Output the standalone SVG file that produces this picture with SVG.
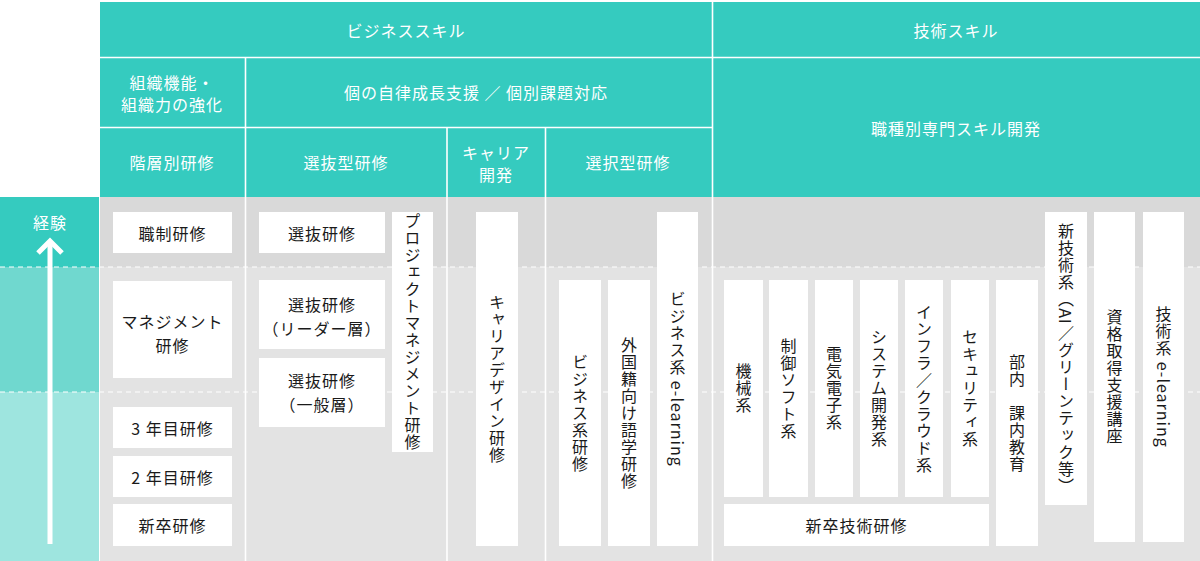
<svg xmlns="http://www.w3.org/2000/svg" width="1200" height="561" viewBox="0 0 1200 561">
<style>
text{font-family:"Noto Sans CJK JP","Noto Sans",sans-serif;font-size:16px;letter-spacing:1px}
.h{fill:#ffffff;text-anchor:middle;dominant-baseline:central}
.t{fill:#1a1a1a;text-anchor:middle;dominant-baseline:central}
.v{fill:#1a1a1a;text-anchor:middle;writing-mode:vertical-rl}
.box{fill:#ffffff}
.wl{stroke:#ffffff;stroke-width:1.6;fill:none}
.dl{stroke:#ffffff;stroke-width:1.2;stroke-dasharray:5 4;fill:none}
</style>
<rect width="1200" height="561" fill="#ffffff"/>
<g id="background">
<rect x="100" y="2" width="1100" height="195" fill="#35cbbf"/>
<rect x="100" y="197" width="1100" height="364" fill="#e3e3e3"/>
<rect x="100" y="197" width="1100" height="70" fill="#d9d9d9"/>
<rect x="0" y="197" width="99" height="70" fill="#35cbbf"/>
<rect x="0" y="267" width="99" height="125" fill="#70d8cf"/>
<rect x="0" y="392" width="99" height="169" fill="#9ee5df"/>
<line class="wl" x1="100" y1="57.5" x2="1200" y2="57.5"/>
<line class="wl" x1="100" y1="127.5" x2="712" y2="127.5"/>
<line class="wl" x1="712.5" y1="2" x2="712.5" y2="561"/>
<line class="wl" x1="245.5" y1="57" x2="245.5" y2="561"/>
<line class="wl" x1="447" y1="127" x2="447" y2="561"/>
<line class="wl" x1="545.5" y1="127" x2="545.5" y2="561"/>
<line class="dl" x1="0" y1="267" x2="1200" y2="267"/>
<line class="dl" x1="0" y1="392" x2="1200" y2="392"/>
</g>
<g id="headers">
<text class="h" x="406" y="30">ビジネススキル</text>
<text class="h" x="956" y="30">技術スキル</text>
<text class="h" x="172" y="82">組織機能・</text>
<text class="h" x="172" y="104">組織力の強化</text>
<text class="h" x="476" y="92">個の自律成長支援 ／ 個別課題対応</text>
<text class="h" x="956" y="128">職種別専門スキル開発</text>
<text class="h" x="172" y="162">階層別研修</text>
<text class="h" x="346" y="162">選抜型研修</text>
<text class="h" x="496" y="152">キャリア</text>
<text class="h" x="496" y="174">開発</text>
<text class="h" x="628" y="162">選択型研修</text>
</g>
<g id="experience">
<text class="h" x="50" y="222">経験</text>
<line x1="50" y1="544" x2="50" y2="242" stroke="#ffffff" stroke-width="5"/>
<polyline points="38,253 50,241 62,253" stroke="#ffffff" stroke-width="5" fill="none"/>
</g>
<g id="n-shokusei"><rect class="box" x="113" y="212" width="119" height="41"/><text class="t" x="172.5" y="232.5">職制研修</text></g>
<g id="n-management"><rect class="box" x="113" y="281" width="119" height="97"/><text class="t" x="172.5" y="321">マネジメント</text><text class="t" x="172.5" y="345">研修</text></g>
<g id="n-3nen"><rect class="box" x="113" y="407" width="119" height="41"/><text class="t" x="172.5" y="427.5">3 年目研修</text></g>
<g id="n-2nen"><rect class="box" x="113" y="456" width="119" height="41"/><text class="t" x="172.5" y="476.5">2 年目研修</text></g>
<g id="n-shinsotsu"><rect class="box" x="113" y="504" width="119" height="42"/><text class="t" x="172.5" y="525">新卒研修</text></g>
<g id="n-senbatsu"><rect class="box" x="259" y="212" width="126" height="41"/><text class="t" x="322" y="232.5">選抜研修</text></g>
<g id="n-senbatsu-leader"><rect class="box" x="259" y="280" width="126" height="69"/><text class="t" x="322" y="304">選抜研修</text><text class="t" x="322" y="328">（リーダー層）</text></g>
<g id="n-senbatsu-ippan"><rect class="box" x="259" y="358" width="126" height="69"/><text class="t" x="322" y="380">選抜研修</text><text class="t" x="322" y="404">（一般層）</text></g>
<g id="n-pm"><rect class="box" x="392" y="212" width="41" height="240"/><text class="v" x="412.5" y="332">プロジェクトマネジメント研修</text></g>
<g id="n-career"><rect class="box" x="476" y="212" width="42" height="334"/><text class="v" x="497" y="379">キャリアデザイン研修</text></g>
<g id="n-biz"><rect class="box" x="559" y="280" width="42" height="266"/><text class="v" x="580" y="413">ビジネス系研修</text></g>
<g id="n-lang"><rect class="box" x="608" y="280" width="42" height="266"/><text class="v" x="629" y="413">外国籍向け語学研修</text></g>
<g id="n-biz-el"><rect class="box" x="657" y="212" width="41" height="334"/><text class="v" x="677.5" y="379">ビジネス系 e-learning</text></g>
<g id="n-kikai"><rect class="box" x="724" y="280" width="39" height="217"/><text class="v" x="743.5" y="388.5">機械系</text></g>
<g id="n-seigyo"><rect class="box" x="769" y="280" width="39" height="217"/><text class="v" x="788.5" y="388.5">制御ソフト系</text></g>
<g id="n-denki"><rect class="box" x="815" y="280" width="38" height="217"/><text class="v" x="834" y="388.5">電気電子系</text></g>
<g id="n-system"><rect class="box" x="860" y="280" width="38" height="217"/><text class="v" x="879" y="388.5">システム開発系</text></g>
<g id="n-infra"><rect class="box" x="905" y="280" width="38" height="217"/><text class="v" x="924" y="388.5">インフラ／クラウド系</text></g>
<g id="n-security"><rect class="box" x="951" y="280" width="38" height="217"/><text class="v" x="970" y="388.5">セキュリティ系</text></g>
<g id="n-shinsotsu-gijutsu"><rect class="box" x="724" y="504" width="265" height="42"/><text class="t" x="856.5" y="525">新卒技術研修</text></g>
<g id="n-bunai"><rect class="box" x="996" y="280" width="42" height="266"/><text class="v" x="1017" y="413">部内　課内教育</text></g>
<g id="n-newtech"><rect class="box" x="1045" y="212" width="42" height="293"/><text class="v" x="1066" y="359">新技術系（AI／グリーンテック等）</text></g>
<g id="n-shikaku"><rect class="box" x="1094" y="212" width="41" height="330"/><text class="v" x="1114.5" y="377">資格取得支援講座</text></g>
<g id="n-tech-el"><rect class="box" x="1143" y="212" width="41" height="330"/><text class="v" x="1163.5" y="377">技術系 e-learning</text></g>
</svg>
